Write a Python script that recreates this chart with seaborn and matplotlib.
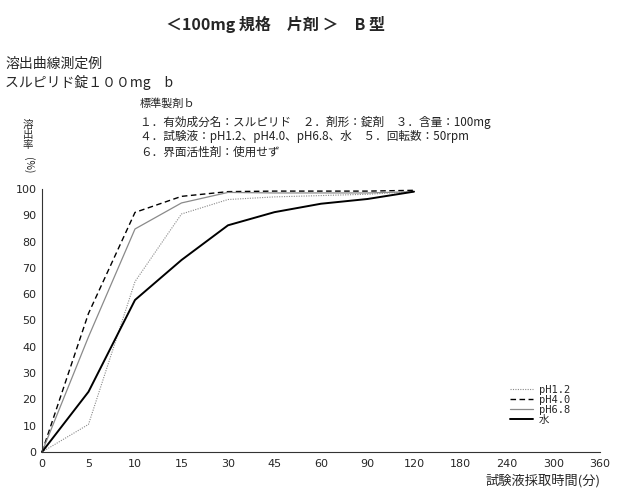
import matplotlib
matplotlib.use("Agg")
import matplotlib.pyplot as plt
import seaborn as sns
import pandas as pd

tick_labels = ["0", "5", "10", "15", "30", "45", "60", "90", "120", "180", "240", "300", "360"]
times = ["0", "5", "10", "15", "30", "45", "60", "90", "120"]
ph12 = [0, 10.5, 64.8, 90.5, 96.0, 97.0, 97.5, 98.0, 99.0]
ph40 = [0, 52.7, 91.1, 97.2, 99.0, 99.2, 99.2, 99.2, 99.5]
ph68 = [0, 43.8, 84.8, 94.7, 98.7, 98.5, 98.5, 98.5, 99.0]
water = [0, 22.9, 57.8, 73.0, 86.2, 91.2, 94.4, 96.2, 99.0]
series_names = ["pH1.2", "pH4.0", "pH6.8", "水"]

sns.set_style("white")
plt.rcParams["font.family"] = ["Noto Sans CJK JP", "DejaVu Sans"]

fig = plt.figure(figsize=(6.18, 4.99), dpi=100)
ax = fig.add_axes([42 / 618, 1 - 452 / 499, (600 - 42) / 618, (452 - 189) / 499])

pos = [tick_labels.index(t) for t in times]
styles = [
    dict(color="#888888", linestyle=(0, (1, 1.2)), linewidth=0.8),
    dict(color="black", linestyle=(0, (4, 2.5)), linewidth=1.0),
    dict(color="#8a8a8a", linestyle="-", linewidth=0.9),
    dict(color="black", linestyle="-", linewidth=1.4),
]
for name, vals, st in zip(series_names, [ph12, ph40, ph68, water], styles):
    df = pd.DataFrame({"x": pos, "y": vals})
    sns.lineplot(data=df, x="x", y="y", ax=ax, label=name, clip_on=False, **st)

ax.set_xlim(0, len(tick_labels) - 1)
ax.set_ylim(0, 100)
ax.set_xticks(range(len(tick_labels)))
ax.set_xticklabels(tick_labels)
ax.set_yticks(range(0, 101, 10))
for s in ["top", "right"]:
    ax.spines[s].set_visible(False)
for s in ["left", "bottom"]:
    ax.spines[s].set_linewidth(0.8)
    ax.spines[s].set_color("#333333")
ax.tick_params(axis="x", direction="in", length=3, width=0.7, labelsize=8, pad=5)
ax.tick_params(axis="y", direction="out", length=2, width=0.7, labelsize=8, pad=2)
for lab in ax.get_xticklabels() + ax.get_yticklabels():
    lab.set_family(["Liberation Sans Narrow", "DejaVu Sans"])
ax.set_xlabel("")
ax.set_ylabel("")

leg = ax.legend(loc="upper left", bbox_to_anchor=(510 / 618, 1 - 385 / 499),
                bbox_transform=fig.transFigure, frameon=False,
                handlelength=2.2, handletextpad=0.6, labelspacing=0.0,
                borderpad=0, borderaxespad=0,
                prop={"family": ["DejaVu Sans Mono", "Noto Sans CJK JP"], "size": 7.5})

# Titles and notes
fig.text(276 / 618, 1 - 24 / 499, "＜100mg 規格　片剤 ＞　B 型", ha="center", va="center",
         fontsize=11.5, fontweight="bold")
fig.text(5 / 618, 1 - 64 / 499, "溶出曲線測定例", ha="left", va="center", fontsize=10)
fig.text(5 / 618, 1 - 83 / 499, "スルピリド錠１００mg　b", ha="left", va="center", fontsize=10)
fig.text(140 / 618, 1 - 103 / 499, "標準製剤ｂ", ha="left", va="center", fontsize=8)
fig.text(140 / 618, 1 - 122 / 499, "１．有効成分名：スルピリド　２．剤形：錠剤　３．含量：100mg",
         ha="left", va="center", fontsize=8.4, color="#222222")
fig.text(140 / 618, 1 - 137 / 499, "４．試験液：pH1.2、pH4.0、pH6.8、水　５．回転数：50rpm",
         ha="left", va="center", fontsize=8.4, color="#222222")
fig.text(140 / 618, 1 - 152 / 499, "６．界面活性剤：使用せず",
         ha="left", va="center", fontsize=8.4, color="#222222")

# vertical y label
fig.text(28 / 618, 1 - 135 / 499, "溶\n出\n率", ha="center", va="center",
         fontsize=7.5, linespacing=1.05)
fig.text(28 / 618, 1 - 165 / 499, "(%)", ha="center", va="center", fontsize=7.5, rotation=-90)

fig.text(600 / 618, 1 - 481 / 499, "試験液採取時間(分)", ha="right", va="center", fontsize=9.5)

fig.savefig("out.png", dpi=100)
